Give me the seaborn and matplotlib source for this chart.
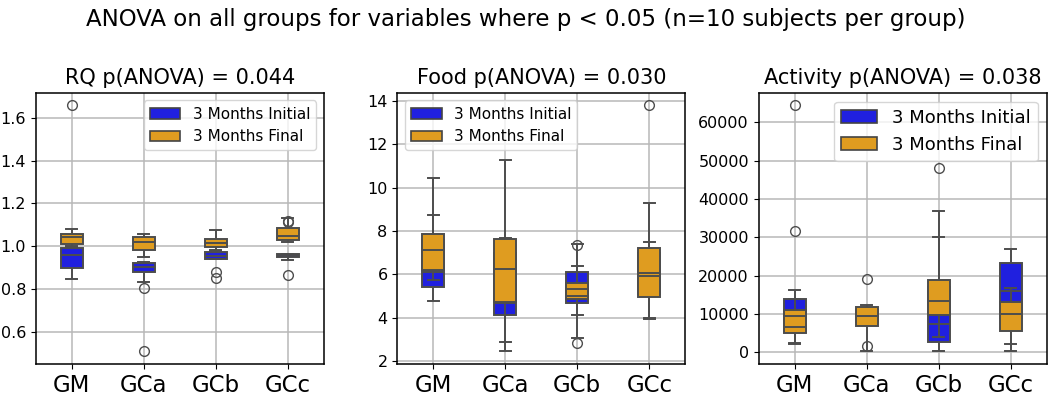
import pandas as pd
import seaborn as sns
import matplotlib.pyplot as plt
from matplotlib.patches import Patch

groups = ["GM", "GCa", "GCb", "GCc"]
titles = ["RQ p(ANOVA) = 0.044", "Food p(ANOVA) = 0.030", "Activity p(ANOVA) = 0.038"]

# 10 subjects per group
rq_initial = {
    "GM": [0.844, 0.87, 0.898, 0.898, 0.95, 0.966, 0.99, 0.99, 0.995, 1.66],
    "GCa": [0.805, 0.83, 0.881, 0.881, 0.9, 0.906, 0.92, 0.92, 0.922, 0.925],
    "GCb": [0.853, 0.88, 0.94, 0.94, 0.95, 0.956, 0.972, 0.972, 0.975, 0.98],
    "GCc": [0.866, 0.935, 0.95, 0.95, 0.955, 0.958, 0.965, 0.965, 1.115, 1.12],
}
rq_final = {
    "GM": [1.0, 1.005, 1.012, 1.012, 1.038, 1.046, 1.059, 1.059, 1.07, 1.078],
    "GCa": [0.507, 0.95, 0.984, 0.984, 1.015, 1.025, 1.042, 1.042, 1.05, 1.055],
    "GCb": [0.975, 0.985, 0.994, 0.994, 1.012, 1.02, 1.033, 1.033, 1.05, 1.077],
    "GCc": [1.019, 1.022, 1.028, 1.028, 1.044, 1.05, 1.085, 1.085, 1.1, 1.13],
}
food_initial = {
    "GM": [4.79, 5.1, 5.44, 5.44, 6.0, 6.2, 7.6, 7.6, 9.0, 10.44],
    "GCa": [2.9, 3.5, 4.12, 4.12, 4.6, 4.8, 7.0, 7.0, 7.4, 7.68],
    "GCb": [3.07, 4.3, 4.7, 4.7, 4.95, 5.09, 6.1, 6.1, 6.8, 7.4],
    "GCc": [3.94, 4.6, 5.1, 5.1, 5.9, 6.2, 7.0, 7.0, 7.3, 7.49],
}
food_final = {
    "GM": [5.75, 5.9, 6.2, 6.2, 7.0, 7.26, 7.88, 7.88, 8.3, 8.76],
    "GCa": [2.45, 3.8, 4.74, 4.74, 6.0, 6.48, 7.63, 7.63, 9.5, 11.25],
    "GCb": [2.84, 4.15, 4.85, 4.85, 5.25, 5.37, 5.59, 5.59, 6.41, 7.34],
    "GCc": [4.0, 4.5, 4.97, 4.97, 5.8, 6.1, 7.21, 7.21, 9.27, 13.8],
}
activity_initial = {
    "GM": [2400, 4000, 5300, 5300, 8500, 10500, 13900, 13900, 31800, 64500],
    "GCa": [1700, 7800, 8000, 8000, 9000, 9800, 11000, 11000, 11500, 19100],
    "GCb": [300, 1500, 2650, 2650, 6500, 8500, 17000, 17000, 37000, 48000],
    "GCc": [260, 5000, 9000, 9000, 15500, 16500, 23300, 23300, 25000, 27000],
}
activity_final = {
    "GM": [2300, 4000, 5200, 5200, 6300, 6800, 11100, 11100, 14000, 16400],
    "GCa": [350, 4000, 7000, 7000, 9300, 9900, 11800, 11800, 12200, 12500],
    "GCb": [3940, 6000, 9700, 9700, 13000, 14000, 19000, 19000, 25000, 30200],
    "GCc": [2200, 4000, 5500, 5500, 9500, 10600, 13100, 13100, 15000, 16700],
}

panels = [(rq_initial, rq_final), (food_initial, food_final), (activity_initial, activity_final)]
legend_loc = ["upper right", "upper left", "upper right"]
legend_size = [11, 11, 13]


def to_long(d):
    rows = [(g, v) for g in groups for v in d[g]]
    return pd.DataFrame(rows, columns=["group", "value"])


fig, axes = plt.subplots(1, 3, figsize=(10.52, 3.95), dpi=100)
plt.subplots_adjust(left=0.034, right=0.995, bottom=0.079, top=0.765, wspace=0.255)

for i, ax in enumerate(axes):
    init, fin = panels[i]
    sns.boxplot(data=to_long(init), x="group", y="value", color="blue", width=0.3,
                linewidth=1.4, fliersize=7, ax=ax)
    sns.boxplot(data=to_long(fin), x="group", y="value", color="orange", width=0.3,
                linewidth=1.4, fliersize=7, ax=ax)
    ax.set_xlabel("")
    ax.set_ylabel("")
    ax.set_title(titles[i], fontsize=15)
    ax.grid(True, linewidth=1.1, color="#b8b8b8")
    ax.tick_params(axis="x", labelsize=16.5)
    ax.tick_params(axis="y", labelsize=11.5)
    for s in ax.spines.values():
        s.set_linewidth(1.1)
    ec = "#444444"
    handles = [Patch(facecolor=sns.desaturate("blue", 0.75), edgecolor=ec, linewidth=1.2, label="3 Months Initial"),
               Patch(facecolor=sns.desaturate("orange", 0.75), edgecolor=ec, linewidth=1.2, label="3 Months Final")]
    ax.legend(handles=handles, loc=legend_loc[i], fontsize=legend_size[i])

fig.suptitle("ANOVA on all groups for variables where p < 0.05 (n=10 subjects per group)", fontsize=16.5)
plt.savefig("out.png", dpi=100)
